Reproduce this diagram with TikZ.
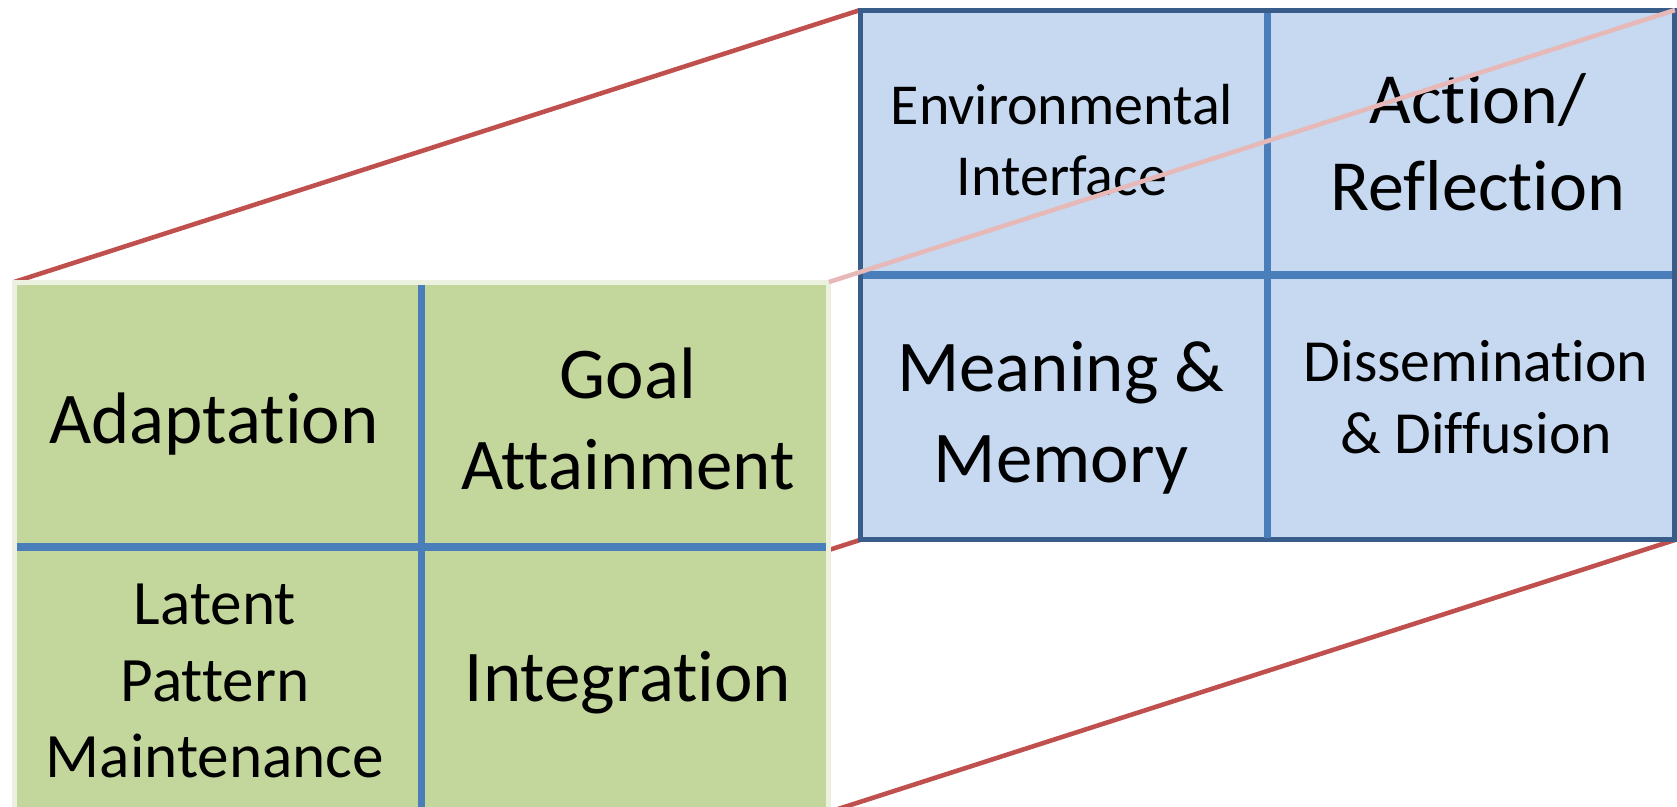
\documentclass[tikz,border=0pt]{standalone}
\usepackage{fontspec}
\setmainfont{Carlito}[Ligatures={NoCommon}]
\usepackage{tikz}
\usetikzlibrary{positioning, backgrounds}

\definecolor{agilgreen}{HTML}{C3D69B}
\definecolor{agilrim}{HTML}{EBF1DE}
\definecolor{zoomblue}{HTML}{C6D9F1}
\definecolor{zoomrim}{HTML}{385D8A}
\definecolor{divblue}{HTML}{4A7EBB}
\definecolor{linkred}{HTML}{C0504D}
\definecolor{linkpink}{HTML}{E6B9B8}

\begin{document}
\begin{tikzpicture}[
    x=0.02cm, y=-0.02cm,
    quad/.style={draw, line width=2.85pt, minimum width=16.3cm, minimum height=10.6cm, inner sep=0pt, outer sep=0pt},
    divider/.style={draw=divblue, line width=4.5pt, shorten <=1.4pt, shorten >=1.4pt},
    link/.style={linkred, line width=2.6pt},
    bigtext/.style={align=center, font=\fontsize{41.5}{51.5}\selectfont},
    midtext/.style={align=center, font=\fontsize{41}{49.5}\selectfont},
    lowtext/.style={align=center, font=\fontsize{36}{43.5}\selectfont},
    smalltext/.style={align=center, font=\fontsize{33}{40.5}\selectfont}
]

    \useasboundingbox (0,0) rectangle (1677,806);
    \clip (0,0) rectangle (1677,806);

    % The two quadrant boxes
    \node[quad, draw=agilrim, fill=agilgreen] (agil) at (421.5,547) {};
    \node[quad, draw=zoomrim, fill=zoomblue] (zoom) at (1267.5,275) {};

    % Dividers
    \draw[divider] (agil.north) -- (agil.south);
    \draw[divider] (agil.west) -- (agil.east);
    \draw[divider] (zoom.north) -- (zoom.south);
    \draw[divider] (zoom.west) -- (zoom.east);

    % Corner links, behind the boxes
    \begin{pgfonlayer}{background}
        \draw[link] (agil.north west) -- (zoom.north west);
        \draw[link] (agil.south west) -- (zoom.south west);
        \draw[link] (agil.south east) -- (zoom.south east);
    \end{pgfonlayer}

    % Green quadrants
    \node[bigtext] (adapt) at (214,424) {Adaptation};
    \node[bigtext] (goal) at (628,419) {Goal\\Attainment};
    \node[lowtext] (latent) at (215,681) {Latent\\Pattern\\Maintenance};
    \node[bigtext] (integ) at (628,683) {Integration};

    % Blue quadrants
    \node[smalltext] (envir) at (1062,140) {Environmental\\Interface};
    \node[midtext] (action) at (1478,142) {Action/\\Reflection};
    \node[bigtext] (meaning) at (1061,418) {Meaning \&\\Memory};
    \node[smalltext, font=\fontsize{34}{41}\selectfont] (dissem) at (1476,397) {Dissemination\\\& Diffusion};

    % Link seen through the zoomed box
    \draw[link, linkpink] (agil.north east) -- (zoom.north east);

\end{tikzpicture}
\end{document}
